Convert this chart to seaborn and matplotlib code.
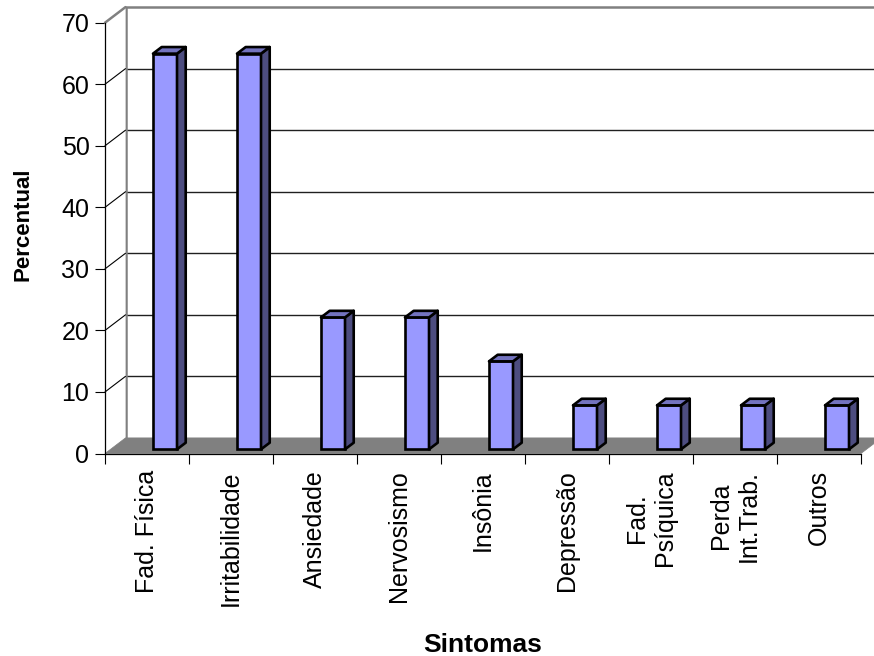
import numpy as np
import pandas as pd
import matplotlib
matplotlib.use("Agg")
import matplotlib.pyplot as plt
import seaborn as sns
from matplotlib.patches import Polygon
from matplotlib.lines import Line2D

# ---- data ----
categorias = ["Fad. Física", "Irritabilidade", "Ansiedade", "Nervosismo", "Insônia",
              "Depressão", "Fad.\nPsíquica", "Perda\nInt.Trab.", "Outros"]
percentual = [64.29, 64.29, 21.43, 21.43, 14.29, 7.14, 7.14, 7.14, 7.14]
yticks = [0, 10, 20, 30, 40, 50, 60, 70]

sns.set_theme(style="white")
plt.rcParams['font.family'] = ['Liberation Sans', 'DejaVu Sans']

W, H = 874, 656
fig = plt.figure(figsize=(W / 100, H / 100), dpi=100)
L, R, B, T = 105, 861, 453.5, 22.7
ax = fig.add_axes([L / W, 1 - B / H, (R - L) / W, (B - T) / H])
ax.patch.set_facecolor("none")

n = len(categorias)
df = pd.DataFrame({"Sintomas": categorias, "Percentual": percentual})
sns.barplot(data=df, x="Sintomas", y="Percentual", ax=ax, width=0.286,
            color="#9999FF", saturation=1, edgecolor="black", linewidth=1.9,
            zorder=5)
x0l, x1l = -0.5, n - 0.5
y0l, y1l = yticks[0], yticks[-1]
ax.set_xlim(x0l, x1l)
ax.set_ylim(y0l, y1l)

sx = (R - L) / (x1l - x0l)      # px per category unit
sy = (B - T) / (y1l - y0l)      # px per value unit

def off(x, y, dxp, dyp):
    return (x + dxp / sx, y + dyp / sy)

DX, DY = 20.5, 15.6  # depth of the 3D box (pixels)

# back wall
bw = [off(x0l, y0l, DX, DY), off(x1l, y0l, DX, DY), off(x1l, y1l, DX, DY), off(x0l, y1l, DX, DY)]
ax.add_patch(Polygon(bw, closed=True, facecolor="white", edgecolor="none", zorder=0.5, clip_on=False))
# back gridlines
for v in yticks[1:-1]:
    a = off(x0l, v, DX, DY); b = off(x1l, v, DX, DY)
    ax.add_line(Line2D([a[0], b[0]], [a[1], b[1]], color="#202020", lw=1.0, zorder=0.6, clip_on=False))
# back wall top and left edges (gray)
a = off(x0l, y0l, DX, DY); b = off(x0l, y1l, DX, DY); c = off(x1l + 1, y1l, DX, DY)
ax.add_line(Line2D([a[0], b[0], c[0]], [a[1], b[1], c[1]], color="#808080", lw=1.8, zorder=0.65, clip_on=False))

# left side wall
lw_poly = [(x0l, y0l), (x0l, y1l), off(x0l, y1l, DX, DY), off(x0l, y0l, DX, DY)]
ax.add_patch(Polygon(lw_poly, closed=True, facecolor="white", edgecolor="none", zorder=0.7, clip_on=False))
for v in yticks[1:-1]:
    a = off(x0l, v, DX, DY)
    ax.add_line(Line2D([x0l, a[0]], [v, a[1]], color="black", lw=0.8, zorder=0.75, clip_on=False))
a = off(x0l, y1l, DX, DY)
ax.add_line(Line2D([x0l, a[0]], [y1l, a[1]], color="#808080", lw=1.8, zorder=0.75, clip_on=False))

# floor
fl = [(x0l, y0l), (x1l, y0l), off(x1l, y0l, DX, DY), off(x0l, y0l, DX, DY)]
ax.add_patch(Polygon(fl, closed=True, facecolor="#808080", edgecolor="#808080", lw=0.5, zorder=0.8, clip_on=False))

# 3D bars: shift front faces onto the floor and add side/top faces
BX, BY = 18.0, 4.2     # front face shift (px)
dX, dY = 8.7, 6.6      # bar depth (px)
for p in ax.patches:
    if p.get_zorder() != 5:
        continue
    x0 = p.get_x() + BX / sx
    p.set_x(x0)
    h = p.get_height()
    yb = p.get_y() + BY / sy
    p.set_y(yb)
    x1 = x0 + p.get_width()
    yt = yb + h
    side = [(x1, yb), (x1, yt), off(x1, yt, dX, dY), off(x1, yb, dX, dY)]
    top = [(x0, yt), (x1, yt), off(x1, yt, dX, dY), off(x0, yt, dX, dY)]
    ax.add_patch(Polygon(side, closed=True, facecolor="#4D4D80", edgecolor="black",
                         lw=1.9, joinstyle="round", zorder=5.1, clip_on=False))
    ax.add_patch(Polygon(top, closed=True, facecolor="#7373BF", edgecolor="black",
                         lw=1.9, joinstyle="round", zorder=5.1, clip_on=False))

# spines and ticks
for s in ["top", "right"]:
    ax.spines[s].set_visible(False)
for s in ["left", "bottom"]:
    ax.spines[s].set_color("black")
    ax.spines[s].set_linewidth(0.9)
    ax.spines[s].set_zorder(3)

ax.set_yticks(yticks)
ax.set_yticklabels([str(v) for v in yticks], fontsize=18)
ax.tick_params(axis="y", left=True, length=7.2, width=0.8, color="black", pad=4, labelcolor="black")

ax.set_xticks(np.arange(x0l, x1l + 0.01, 1.0))
ax.set_xticklabels([""] * (n + 1))
ax.set_xticks(np.arange(n), minor=True)
ax.set_xticklabels(categorias, minor=True, rotation=90, fontsize=18, ha="center", va="top")
ax.tick_params(axis="x", which="major", bottom=True, length=7.2, width=0.8, color="black")
ax.tick_params(axis="x", which="minor", bottom=True, length=0, pad=12, labelcolor="black")

ax.set_xlabel("")
ax.set_ylabel("")
fig.text(23 / W, 1 - 224 / H, "Percentual", rotation=90, ha="center", va="center",
         fontsize=16, fontweight="bold", color="black")
fig.text(483 / W, 1 - 652 / H, "Sintomas", ha="center", va="baseline",
         fontsize=19, fontweight="bold", color="black")

fig.savefig("out.png", dpi=100, facecolor="white")
